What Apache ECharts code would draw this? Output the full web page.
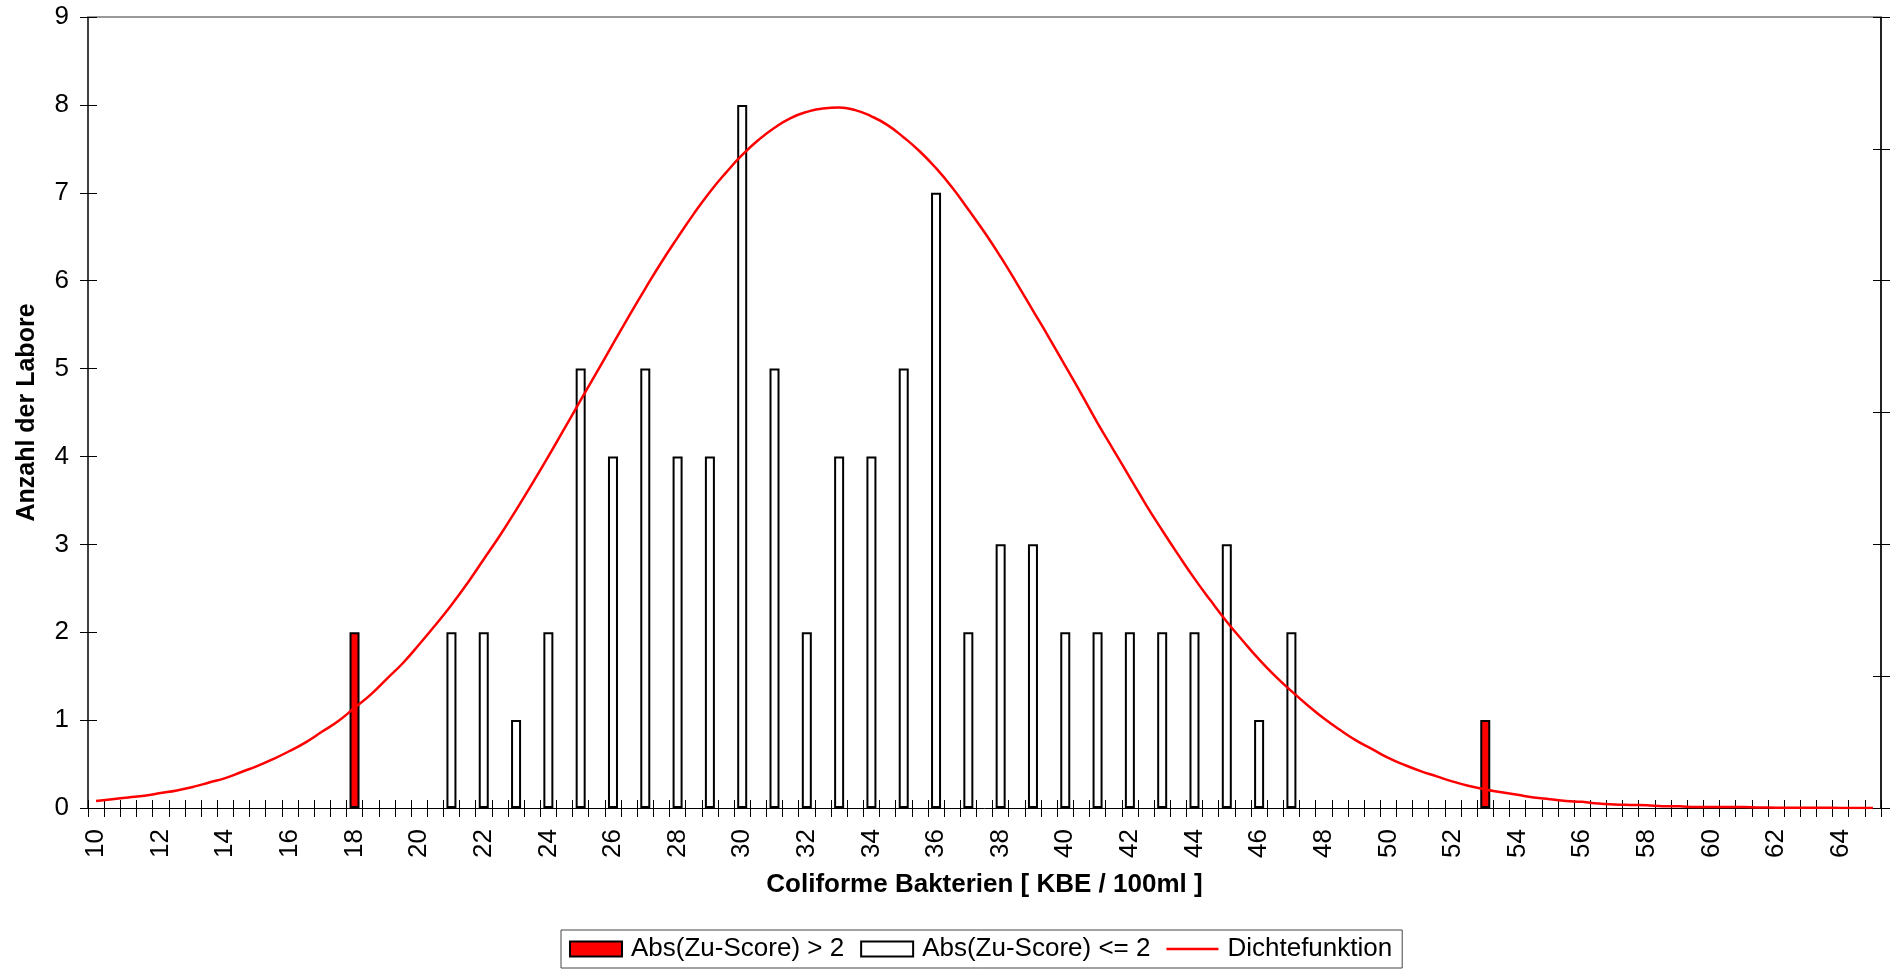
<!DOCTYPE html>
<html>
<head>
<meta charset="utf-8">
<script src="https://cdn.jsdelivr.net/npm/echarts@6/dist/echarts.min.js"></script>
<style>
html,body{margin:0;padding:0;background:#fff;}
#chart{width:1894px;height:971px;}
</style>
</head>
<body>
<div id="chart"></div>
<script>
// x categories (KBE / 100ml), half-unit steps
const categories = [
 '10','10.5','11','11.5','12','12.5','13','13.5','14','14.5',
 '15','15.5','16','16.5','17','17.5','18','18.5','19','19.5',
 '20','20.5','21','21.5','22','22.5','23','23.5','24','24.5',
 '25','25.5','26','26.5','27','27.5','28','28.5','29','29.5',
 '30','30.5','31','31.5','32','32.5','33','33.5','34','34.5',
 '35','35.5','36','36.5','37','37.5','38','38.5','39','39.5',
 '40','40.5','41','41.5','42','42.5','43','43.5','44','44.5',
 '45','45.5','46','46.5','47','47.5','48','48.5','49','49.5',
 '50','50.5','51','51.5','52','52.5','53','53.5','54','54.5',
 '55','55.5','56','56.5','57','57.5','58','58.5','59','59.5',
 '60','60.5','61','61.5','62','62.5','63','63.5','64','64.5',
 '65'
];
// Abs(Zu-Score) > 2
const outlierX = ['18', '53'];
const outlierCount = [2, 1];
// Abs(Zu-Score) <= 2
const normalX = ['21','22','23','24','25','26','27','28','29','30','31','32','33','34',
                 '35','36','37','38','39','40','41','42','43','44','45','46','47'];
const normalCount = [2,2,1,2,5,4,5,4,4,8,5,2,4,4,5,7,2,3,3,2,2,2,2,2,3,1,2];
// Dichtefunktion (in count units)
const density = [
 0.08,0.10,0.12,0.14,0.17,0.20,0.24,0.29,0.34,0.41,
 0.48,0.56,0.65,0.75,0.87,0.99,1.14,1.29,1.47,1.65,
 1.86,2.08,2.31,2.56,2.83,3.10,3.39,3.69,4.00,4.32,
 4.64,4.96,5.28,5.60,5.91,6.21,6.49,6.76,7.01,7.23,
 7.43,7.60,7.74,7.85,7.92,7.96,7.97,7.94,7.87,7.77,
 7.63,7.47,7.28,7.06,6.81,6.55,6.27,5.97,5.66,5.35,
 5.03,4.71,4.38,4.07,3.76,3.45,3.16,2.88,2.61,2.36,
 2.12,1.90,1.69,1.50,1.33,1.17,1.02,0.89,0.77,0.67,
 0.57,0.49,0.42,0.36,0.30,0.25,0.21,0.18,0.15,0.12,
 0.10,0.08,0.07,0.05,0.04,0.035,0.03,0.02,0.02,0.01,
 0.01,0.01,0.01,0.005,0.004,0.003,0.002,0.002,0.001,0.001,
 0.001
];
const yTicks = [0,1,2,3,4,5,6,7,8,9];

function toSeries(xs, vals){
  return categories.map(c => { const i = xs.indexOf(c); return i >= 0 ? vals[i] : null; });
}

const FONT = 'Liberation Sans, Arial, sans-serif';
const chart = echarts.init(document.getElementById('chart'), null, {renderer:'canvas'});
const option = {
  backgroundColor: '#fff',
  animation: false,
  textStyle: {fontFamily: FONT, color: '#000'},
  grid: {left: 88, right: 13, top: 17, bottom: 163, containLabel: false},
  legend: {
    left: 561, top: 930,
    padding: [6, 10, 6, 8],
    borderColor: '#444', borderWidth: 1,
    itemWidth: 52, itemHeight: 15, itemGap: 16,
    textStyle: {fontFamily: FONT, fontSize: 26, color: '#000', padding: [0, 0, 0, 4]},
    data: [
      {name: 'Abs(Zu-Score) > 2', icon: 'rect'},
      {name: 'Abs(Zu-Score) <= 2', icon: 'rect'},
      {name: 'Dichtefunktion',
       icon: 'path://M0,0 L0,0 M0,6.3 L52,6.3 L52,8.7 L0,8.7 Z M52,15 L52,15',
       itemStyle: {color: '#ff0000', borderWidth: 0}}
    ]
  },
  xAxis: [
    {
      type: 'category', position: 'bottom', data: categories, boundaryGap: true,
      axisLine: {show: true, onZero: false, lineStyle: {color: '#000', width: 1}},
      axisTick: {show: true, interval: 0, inside: false, length: 9, lineStyle: {color: '#000'}},
      axisLabel: {interval: 3, rotate: 90, margin: 21, fontSize: 26, color: '#000', fontFamily: FONT},
      splitLine: {show: false},
      name: 'Coliforme Bakterien [ KBE / 100ml ]', nameLocation: 'middle', nameGap: 64,
      nameTextStyle: {fontSize: 26, fontWeight: 'bold', color: '#000', fontFamily: FONT}
    },
    {
      type: 'category', position: 'bottom', data: categories, boundaryGap: true,
      axisLine: {show: false, onZero: false},
      axisTick: {show: true, interval: 0, inside: true, length: 8, lineStyle: {color: '#000'}},
      axisLabel: {show: false}, splitLine: {show: false}
    },
    {
      type: 'category', position: 'top', data: categories, boundaryGap: true,
      axisLine: {show: true, onZero: false, lineStyle: {color: '#999', width: 2}},
      axisTick: {show: false}, axisLabel: {show: false}, splitLine: {show: false}
    }
  ],
  yAxis: [
    {
      type: 'value', position: 'left', min: 0, max: 9, interval: 1,
      axisLine: {show: true, onZero: false, lineStyle: {color: '#000', width: 1.5}},
      axisTick: {show: true, inside: false, length: 8, lineStyle: {color: '#000'}},
      axisLabel: {margin: 19, fontSize: 26, color: '#000', fontFamily: FONT,
                  formatter: v => yTicks.indexOf(v) >= 0 ? String(v) : ''},
      splitLine: {show: false},
      name: 'Anzahl der Labore', nameLocation: 'middle', nameGap: 48, nameRotate: 90,
      nameTextStyle: {fontSize: 25, fontWeight: 'bold', color: '#000', fontFamily: FONT}
    },
    {
      type: 'value', position: 'left', min: 0, max: 9, interval: 1,
      axisLine: {show: false, onZero: false},
      axisTick: {show: true, inside: true, length: 9, lineStyle: {color: '#000'}},
      axisLabel: {show: false}, splitLine: {show: false}
    },
    {
      type: 'value', position: 'right', min: 0, max: 6, interval: 1,
      axisLine: {show: true, onZero: false, lineStyle: {color: '#222', width: 2}},
      axisTick: {show: true, inside: false, length: 9, lineStyle: {color: '#000'}},
      axisLabel: {show: false}, splitLine: {show: false}
    },
    {
      type: 'value', position: 'right', min: 0, max: 6, interval: 1,
      axisLine: {show: false, onZero: false},
      axisTick: {show: true, inside: true, length: 8, lineStyle: {color: '#000'}},
      axisLabel: {show: false}, splitLine: {show: false}
    }
  ],
  series: [
    {
      name: 'Abs(Zu-Score) > 2', type: 'bar', xAxisIndex: 0, yAxisIndex: 0,
      data: toSeries(outlierX, outlierCount),
      barWidth: 10, barGap: '-100%',
      itemStyle: {color: '#ff0000', borderColor: '#000', borderWidth: 2}
    },
    {
      name: 'Abs(Zu-Score) <= 2', type: 'bar', xAxisIndex: 0, yAxisIndex: 0,
      data: toSeries(normalX, normalCount),
      barWidth: 10, barGap: '-100%',
      itemStyle: {color: '#ffffff', borderColor: '#000', borderWidth: 2}
    },
    {
      name: 'Dichtefunktion', type: 'line', xAxisIndex: 0, yAxisIndex: 0,
      data: density, smooth: 0.5, symbol: 'none', showSymbol: false, z: 5,
      lineStyle: {color: '#ff0000', width: 2.5},
      itemStyle: {color: '#ff0000'}
    }
  ]
};
chart.setOption(option);
</script>
</body>
</html>
